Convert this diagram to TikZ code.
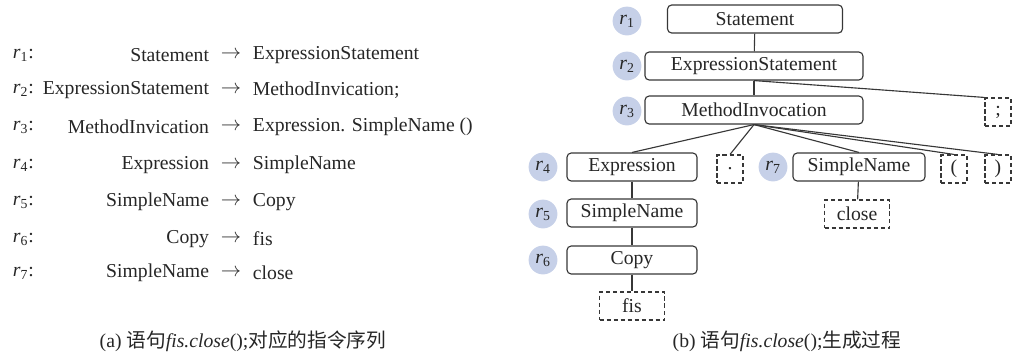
\documentclass[tikz,border=0pt]{standalone}
\usepackage{fontspec}
\setmainfont{Liberation Serif}
\newfontfamily\cjk{Noto Sans CJK SC}
\definecolor{tagblue}{RGB}{198,208,232}
\definecolor{inkgray}{RGB}{55,55,55}
\newcommand{\rr}[1]{\textit{r}\textsubscript{#1}}
\begin{document}
\begin{tikzpicture}[x=0.025cm, y=-0.025cm, font=\fontsize{14pt}{16pt}\selectfont, text=black!85,
  rule/.style={draw=inkgray, line width=0.8pt, rounded corners=3pt, inner sep=0pt, minimum height=0.7cm},
  term/.style={draw=inkgray, line width=0.8pt, densely dashed, inner sep=0pt, minimum width=0.65cm, minimum height=0.7cm},
  rtag/.style={circle, fill=tagblue, inner sep=0pt, minimum size=0.72cm},
  edge/.style={draw=inkgray, line width=0.8pt}]
  \useasboundingbox (0,0) rectangle (1012,358);
  % (a) rule list
  \node[anchor=west] (lab1) at (8,55) {\rr{1}:};
  \node[anchor=west] (lab2) at (8,90) {\rr{2}:};
  \node[anchor=west] (lab3) at (8,127) {\rr{3}:};
  \node[anchor=west] (lab4) at (8,165) {\rr{4}:};
  \node[anchor=west] (lab5) at (8,202) {\rr{5}:};
  \node[anchor=west] (lab6) at (8,239) {\rr{6}:};
  \node[anchor=west] (lab7) at (8,273) {\rr{7}:};
  \node[anchor=east] (lhs1) at (214,55) {Statement};
  \node[anchor=east] (lhs2) at (214,90) {ExpressionStatement};
  \node[anchor=east] (lhs3) at (214,127) {MethodInvication};
  \node[anchor=east] (lhs4) at (214,165) {Expression};
  \node[anchor=east] (lhs5) at (214,202) {SimpleName};
  \node[anchor=east] (lhs6) at (214,239) {Copy};
  \node[anchor=east] (lhs7) at (214,273) {SimpleName};
  \node (arr1) at (231,55) {$\rightarrow$};
  \node (arr2) at (231,90) {$\rightarrow$};
  \node (arr3) at (231,127) {$\rightarrow$};
  \node (arr4) at (231,165) {$\rightarrow$};
  \node (arr5) at (231,202) {$\rightarrow$};
  \node (arr6) at (231,239) {$\rightarrow$};
  \node (arr7) at (231,273) {$\rightarrow$};
  \node[anchor=west] (rhs1) at (248,55) {ExpressionStatement};
  \node[anchor=west] (rhs2) at (248,90) {MethodInvication;};
  \node[anchor=west] (rhs3) at (248,127) {Expression. SimpleName ()};
  \node[anchor=west] (rhs4) at (248,165) {SimpleName};
  \node[anchor=west] (rhs5) at (248,202) {Copy};
  \node[anchor=west] (rhs6) at (248,239) {fis};
  \node[anchor=west] (rhs7) at (248,273) {close};
  \node (capa) at (243,341) {(a) {\cjk 语句}\textit{fis.close}();{\cjk 对应的指令序列}};
  % (b) derivation tree
  \node[rule, minimum width=4.375cm] (stmt) at (755,19) {Statement};
  \node[rule, minimum width=5.45cm] (exst) at (754,66) {ExpressionStatement};
  \node[rule, minimum width=5.45cm] (minv) at (754,110) {MethodInvocation};
  \node[term] (semi) at (998,112) {;};
  \node[rule, minimum width=3.25cm] (expr) at (632,167) {Expression};
  \node[term] (dot) at (730,169) {.};
  \node[rule, minimum width=3.3cm] (sname) at (859,167) {SimpleName};
  \node[term] (lpar) at (954,169) {(};
  \node[term] (rpar) at (998,169) {)};
  \node[term, minimum width=1.625cm] (close) at (857,214) {close};
  \node[rule, minimum width=3.25cm] (ename) at (632,213) {SimpleName};
  \node[rule, minimum width=3.25cm] (copy) at (632,260) {Copy};
  \node[term, minimum width=1.625cm] (fis) at (632,306) {fis};
  \node[rtag] (t1) at (627,21) {\rr{1}};
  \node[rtag] (t2) at (627,66) {\rr{2}};
  \node[rtag] (t3) at (627,111) {\rr{3}};
  \node[rtag] (t4) at (543,167) {\rr{4}};
  \node[rtag] (t5) at (543,214) {\rr{5}};
  \node[rtag] (t6) at (543,260) {\rr{6}};
  \node[rtag] (t7) at (773,167) {\rr{7}};
  \draw[edge] (stmt) -- (exst);
  \draw[edge] (exst) -- (minv);
  \draw[edge] (exst.south) -- (semi.north west);
  \draw[edge] (minv.south) -- (expr.north);
  \draw[edge] (minv.south) -- (dot.north);
  \draw[edge] (minv.south) -- (sname.north);
  \draw[edge] (minv.south) -- (lpar.north);
  \draw[edge] (minv.south) -- (rpar.north);
  \draw[edge] (expr) -- (ename);
  \draw[edge] (ename) -- (copy);
  \draw[edge] (copy) -- (fis);
  \draw[edge] (sname) -- (close);
  \node (capb) at (787,341) {(b) {\cjk 语句}\textit{fis.close}();{\cjk 生成过程}};
\end{tikzpicture}
\end{document}
